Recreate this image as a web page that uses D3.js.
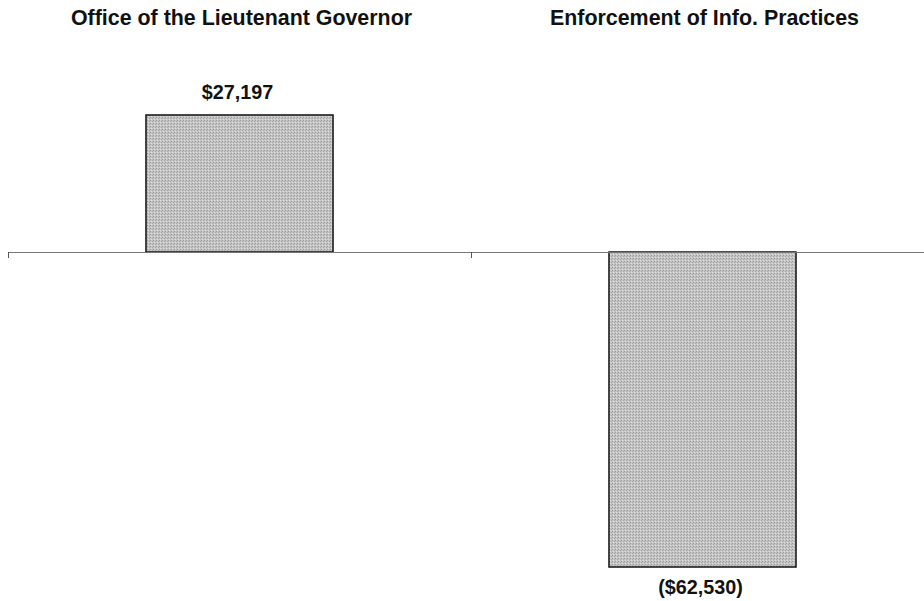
<!DOCTYPE html>
<html>
<head>
<meta charset="utf-8">
<script src="https://cdn.jsdelivr.net/npm/d3@7"></script>
<style>
  html, body { margin: 0; padding: 0; background: #fff; }
  svg { display: block; }
  text { font-family: "Liberation Sans", Arial, sans-serif; font-weight: bold; fill: #111; }
</style>
</head>
<body>
<svg id="chart" width="924" height="601"></svg>
<script>
// Budget change by program
const categories = ["Office of the Lieutenant Governor", "Enforcement of Info. Practices"];
const values = [27197, -62530];
const valueLabels = ["$27,197", "($62,530)"];

const svg = d3.select("#chart");

const x = d3.scaleBand()
  .domain(categories)
  .range([8, 934])
  .paddingInner(0)
  .paddingOuter(0);

const y = d3.scaleLinear()
  .domain([d3.min(values), d3.max(values)])
  .range([567, 115]);

// halftone-like fill for the bars
const defs = svg.append("defs");
const pat = defs.append("pattern")
  .attr("id", "grain")
  .attr("width", 3).attr("height", 3)
  .attr("patternUnits", "userSpaceOnUse");
pat.append("rect").attr("width", 3).attr("height", 3).attr("fill", "#c4c4c4");
pat.append("rect").attr("x", 0).attr("y", 0).attr("width", 1).attr("height", 1).attr("fill", "#9a9a9a");
pat.append("rect").attr("x", 2).attr("y", 1).attr("width", 1).attr("height", 1).attr("fill", "#a8a8a8");
pat.append("rect").attr("x", 1).attr("y", 2).attr("width", 1).attr("height", 1).attr("fill", "#e0e0e0");

// category titles across the top
svg.selectAll("text.title")
  .data(categories)
  .join("text")
  .attr("class", "title")
  .attr("x", d => x(d) + x.bandwidth() / 2 + 2)
  .attr("y", 25)
  .attr("text-anchor", "middle")
  .attr("font-size", 21.4)
  .text(d => d);

const barW = x.bandwidth() * 0.404;

// bars
svg.selectAll("rect.bar")
  .data(values)
  .join("rect")
  .attr("class", "bar")
  .attr("x", (d, i) => x(categories[i]) + (x.bandwidth() - barW) / 2)
  .attr("width", barW)
  .attr("y", d => y(Math.max(0, d)))
  .attr("height", d => Math.abs(y(d) - y(0)))
  .attr("fill", "url(#grain)")
  .attr("stroke", "#111")
  .attr("stroke-width", 1.5);

// zero axis with category ticks
const axis = d3.axisBottom(x).tickSize(6).tickFormat("").tickSizeOuter(0);
const axisG = svg.append("g")
  .attr("transform", `translate(0,${y(0)})`)
  .call(axis);
axisG.select(".domain").attr("stroke", "#777").attr("stroke-width", 1);
axisG.selectAll(".tick").remove();
axisG.selectAll(".bound")
  .data(x.domain())
  .join("line")
  .attr("x1", d => x(d) + 0.5)
  .attr("x2", d => x(d) + 0.5)
  .attr("y1", 0)
  .attr("y2", 6)
  .attr("stroke", "#555");

// value labels
svg.selectAll("text.val")
  .data(values)
  .join("text")
  .attr("class", "val")
  .attr("x", (d, i) => x(categories[i]) + x.bandwidth() / 2 - 2)
  .attr("y", d => d >= 0 ? y(d) - 16 : y(d) + 27)
  .attr("text-anchor", "middle")
  .attr("font-size", 19.8)
  .text((d, i) => valueLabels[i]);
</script>
</body>
</html>
